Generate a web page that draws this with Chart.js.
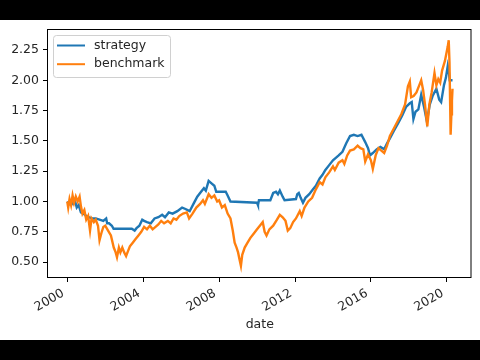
<!DOCTYPE html>
<html>
<head>
<meta charset="utf-8">
<script src="https://cdn.jsdelivr.net/npm/chart.js@4.4.1/dist/chart.umd.min.js"></script>
<style>
  html, body { margin: 0; padding: 0; background: #000; }
  #wrap { width: 480px; height: 360px; }
</style>
</head>
<body>
<div id="wrap"><canvas id="chart" width="480" height="360"></canvas></div>
<script>
const xTicks = [2000, 2004, 2008, 2012, 2016, 2020];
const yTicks = [0.5, 0.75, 1.0, 1.25, 1.5, 1.75, 2.0, 2.25];

const strategyDates = [
  2000.00, 2000.10, 2000.20, 2000.30, 2000.40, 2000.50, 2000.60, 2000.72, 2000.85, 2001.00,
  2001.15, 2001.30, 2001.50, 2001.70, 2001.90, 2002.05, 2002.10, 2002.20, 2002.35, 2002.44,
  2003.40, 2003.55, 2003.65, 2003.80, 2003.95, 2004.05, 2004.20, 2004.40, 2004.60, 2004.80,
  2005.00, 2005.15, 2005.35, 2005.55, 2005.80, 2006.05, 2006.20, 2006.45, 2006.65, 2006.85,
  2007.05, 2007.20, 2007.30, 2007.45, 2007.60, 2007.75, 2007.85, 2008.10, 2008.35, 2008.45,
  2008.60, 2010.00, 2010.05, 2010.10, 2010.70, 2010.85, 2011.00, 2011.10, 2011.20, 2011.35,
  2011.45, 2012.05, 2012.12, 2012.20, 2012.30, 2012.42, 2012.55, 2012.75, 2012.95, 2013.10,
  2013.30, 2013.45, 2013.60, 2013.80, 2014.00, 2014.15, 2014.30, 2014.50, 2014.70, 2014.90,
  2015.10, 2015.30, 2015.50, 2015.70, 2015.85, 2015.95, 2016.10, 2016.30, 2016.50, 2016.70,
  2016.85, 2017.00, 2017.20, 2017.45, 2017.65, 2017.85, 2018.05, 2018.15, 2018.24, 2018.35,
  2018.50, 2018.65, 2018.80, 2018.95, 2019.10, 2019.25, 2019.45, 2019.60, 2019.70, 2019.85,
  2019.95, 2020.05, 2020.10, 2020.15, 2020.30
];
const strategyValues = [
  1.00, 0.98, 1.00, 0.98, 1.01, 0.95, 0.97, 0.91, 0.90, 0.88,
  0.87, 0.86, 0.86, 0.85, 0.84, 0.86, 0.82, 0.82, 0.80, 0.775,
  0.775, 0.76, 0.78, 0.80, 0.85, 0.84, 0.83, 0.82, 0.86, 0.87,
  0.89, 0.87, 0.91, 0.90, 0.92, 0.95, 0.94, 0.92, 0.98, 1.04,
  1.08, 1.11, 1.09, 1.17, 1.15, 1.13, 1.08, 1.08, 1.08, 1.05,
  1.00, 0.99, 0.97, 1.01, 1.01, 1.07, 1.08, 1.06, 1.09, 1.04,
  1.01, 1.02, 1.06, 1.07, 1.03, 0.99, 1.03, 1.06, 1.10, 1.13,
  1.19, 1.22, 1.26, 1.30, 1.34, 1.36, 1.38, 1.41, 1.48, 1.54,
  1.55, 1.54, 1.55, 1.49, 1.44, 1.38, 1.40, 1.43, 1.45, 1.43,
  1.48, 1.52, 1.58, 1.65, 1.71, 1.78, 1.81, 1.82, 1.68, 1.74,
  1.76, 1.88, 1.78, 1.66, 1.80, 1.87, 1.93, 1.84, 1.82, 1.96,
  2.02, 2.12, 2.08, 2.00, 2.00
];

const benchmarkDates = [
  2000.00, 2000.05, 2000.12, 2000.20, 2000.28, 2000.36, 2000.45, 2000.55, 2000.65, 2000.72,
  2000.80, 2000.90, 2001.00, 2001.10, 2001.20, 2001.28, 2001.40, 2001.50, 2001.62, 2001.70,
  2001.80, 2001.90, 2002.00, 2002.15, 2002.30, 2002.45, 2002.55, 2002.62, 2002.72, 2002.80,
  2002.90, 2003.00, 2003.10, 2003.20, 2003.30, 2003.45, 2003.60, 2003.75, 2003.90, 2004.05,
  2004.20, 2004.35, 2004.50, 2004.65, 2004.80, 2004.95, 2005.10, 2005.30, 2005.45, 2005.60,
  2005.75, 2005.90, 2006.10, 2006.30, 2006.42, 2006.60, 2006.80, 2007.00, 2007.15, 2007.25,
  2007.45, 2007.60, 2007.75, 2007.90, 2008.00, 2008.15, 2008.30, 2008.45, 2008.60, 2008.72,
  2008.82, 2008.92, 2009.00, 2009.08, 2009.15, 2009.22, 2009.35, 2009.50, 2009.65, 2009.80,
  2010.00, 2010.20, 2010.30, 2010.40, 2010.50, 2010.65, 2010.85, 2011.05, 2011.20, 2011.35,
  2011.50, 2011.62, 2011.75, 2011.90, 2012.05, 2012.25, 2012.35, 2012.50, 2012.70, 2012.90,
  2013.10, 2013.30, 2013.45, 2013.60, 2013.80, 2014.00, 2014.10, 2014.30, 2014.50, 2014.60,
  2014.75, 2014.90, 2015.10, 2015.30, 2015.45, 2015.60, 2015.70, 2015.85, 2016.00, 2016.10,
  2016.25, 2016.40, 2016.55, 2016.70, 2016.85, 2017.00, 2017.20, 2017.40, 2017.60, 2017.80,
  2017.95, 2018.05, 2018.12, 2018.25, 2018.40, 2018.55, 2018.65, 2018.75, 2018.85, 2018.97,
  2019.08, 2019.20, 2019.35, 2019.45, 2019.55, 2019.65, 2019.75, 2019.90, 2020.05, 2020.10,
  2020.14, 2020.17, 2020.20, 2020.24, 2020.27, 2020.30
];
const benchmarkValues = [
  1.00, 0.95, 1.02, 0.97, 1.05, 0.99, 1.04, 1.00, 1.04, 0.96,
  0.90, 0.93, 0.85, 0.88, 0.76, 0.86, 0.83, 0.85, 0.80, 0.68,
  0.74, 0.79, 0.80, 0.76, 0.72, 0.62, 0.58, 0.54, 0.62, 0.58,
  0.62, 0.58, 0.55, 0.59, 0.63, 0.66, 0.69, 0.72, 0.75, 0.79,
  0.77, 0.80, 0.77, 0.79, 0.81, 0.84, 0.82, 0.84, 0.82, 0.86,
  0.85, 0.88, 0.90, 0.91, 0.86, 0.90, 0.95, 0.98, 1.01, 0.98,
  1.06, 1.03, 1.05, 1.00, 1.01, 0.95, 0.97, 0.90, 0.86, 0.76,
  0.66, 0.62, 0.58, 0.52, 0.47, 0.56, 0.62, 0.66, 0.70, 0.73,
  0.77, 0.81, 0.83, 0.75, 0.72, 0.77, 0.80, 0.85, 0.89, 0.87,
  0.84, 0.76, 0.78, 0.83, 0.86, 0.92, 0.88, 0.95, 1.00, 1.03,
  1.10, 1.16, 1.14, 1.20, 1.24, 1.29, 1.26, 1.32, 1.34, 1.31,
  1.38, 1.42, 1.43, 1.46, 1.44, 1.43, 1.33, 1.39, 1.34, 1.27,
  1.38, 1.44, 1.42, 1.40, 1.46, 1.54, 1.60, 1.66, 1.72, 1.80,
  1.95, 1.99, 1.86, 1.87, 1.90, 1.96, 2.00, 1.92, 1.80, 1.62,
  1.80, 1.90, 2.06, 1.96, 2.01, 1.98, 2.08, 2.16, 2.28, 2.33,
  2.15, 1.85, 1.55, 1.72, 1.83, 1.93
];

const FONT = { family: 'DejaVu Sans', size: 12.5 };
const TEXT = '#262626';

function toPoints(xs, ys) {
  return xs.map((x, i) => ({ x, y: ys[i] }));
}

// black letterbox bars above and below the white figure
const letterbox = {
  id: 'letterbox',
  beforeDraw(chart) {
    const { ctx, width, height } = chart;
    ctx.save();
    ctx.fillStyle = '#fff';
    ctx.fillRect(0, 0, width, height);
    ctx.fillStyle = '#000';
    ctx.fillRect(0, 0, width, 20);
    ctx.fillRect(0, 340, width, height - 340);
    ctx.restore();
  },
};

// axes frame on all four sides
const frame = {
  id: 'frame',
  afterDraw(chart) {
    const { ctx, chartArea: a } = chart;
    ctx.save();
    ctx.strokeStyle = '#000';
    ctx.lineWidth = 1;
    ctx.strokeRect(a.left - 0.5, a.top + 0.5, a.right - a.left, a.bottom - a.top);
    ctx.restore();
  },
};

// matplotlib style legend box in the upper left corner
const mplLegend = {
  id: 'mplLegend',
  afterDatasetsDraw(chart) {
    const { ctx, chartArea: a } = chart;
    const x = a.left + 5, y = a.top + 6, w = 117, h = 42;
    ctx.save();
    ctx.beginPath();
    ctx.roundRect(x + 0.5, y + 0.5, w, h, 3);
    ctx.fillStyle = 'rgba(255,255,255,0.8)';
    ctx.fill();
    ctx.strokeStyle = '#d0d0d0';
    ctx.lineWidth = 1;
    ctx.stroke();
    ctx.font = `${FONT.size}px "${FONT.family}"`;
    ctx.textBaseline = 'middle';
    ctx.fillStyle = TEXT;
    chart.data.datasets.forEach((ds, i) => {
      const cy = y + 10.5 + i * 18.7;
      ctx.beginPath();
      ctx.strokeStyle = ds.borderColor;
      ctx.lineWidth = 2;
      ctx.moveTo(x + 4, cy);
      ctx.lineTo(x + 32, cy);
      ctx.stroke();
      ctx.fillText(ds.label, x + 41, cy);
    });
    ctx.restore();
  },
};

new Chart(document.getElementById('chart'), {
  type: 'line',
  data: {
    datasets: [
      {
        label: 'strategy',
        data: toPoints(strategyDates, strategyValues),
        borderColor: '#1f77b4',
        borderWidth: 2.4,
        pointRadius: 0,
        order: 1,
      },
      {
        label: 'benchmark',
        data: toPoints(benchmarkDates, benchmarkValues),
        borderColor: '#ff7f0e',
        borderWidth: 2.4,
        pointRadius: 0,
        order: 0,
      },
    ],
  },
  options: {
    responsive: false,
    animation: false,
    layout: { padding: { top: 29, right: 8.5, left: 0, bottom: 0 } },
    plugins: {
      legend: { display: false },
      tooltip: { enabled: false },
    },
    scales: {
      x: {
        type: 'linear',
        min: 1998.985,
        max: 2021.3,
        afterBuildTicks: s => { s.ticks = xTicks.map(v => ({ value: v })); },
        afterFit: s => { s.height = 83; },
        ticks: {
          autoSkip: false,
          minRotation: 30,
          maxRotation: 30,
          padding: 4,
          labelOffset: -4,
          color: TEXT,
          font: FONT,
          callback: v => String(v),
        },
        grid: { drawOnChartArea: false, drawTicks: true, tickLength: 5, color: '#000' },
        border: { display: false },
        title: { display: true, text: 'date', color: TEXT, font: FONT, padding: { top: 0, bottom: 28 } },
      },
      y: {
        type: 'linear',
        min: 0.377,
        max: 2.423,
        afterBuildTicks: s => { s.ticks = yTicks.map(v => ({ value: v })); },
        afterFit: s => { s.width = 48; },
        ticks: {
          padding: 4,
          color: TEXT,
          font: FONT,
          callback: v => v.toFixed(2),
        },
        grid: { drawOnChartArea: false, drawTicks: true, tickLength: 5, color: '#000' },
        border: { display: false },
      },
    },
  },
  plugins: [letterbox, mplLegend, frame],
});
</script>
</body>
</html>
